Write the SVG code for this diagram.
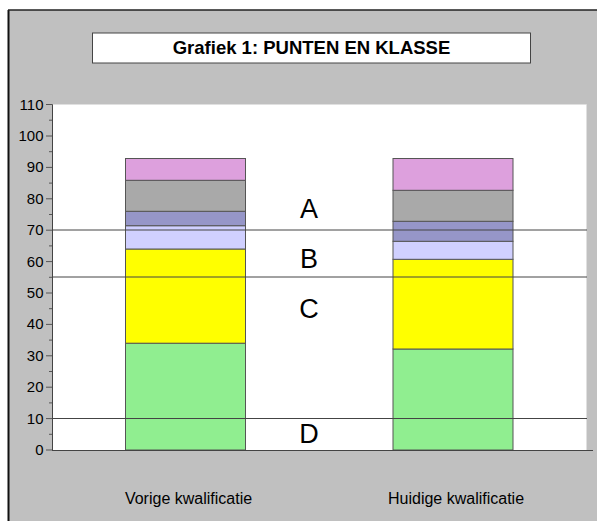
<svg xmlns="http://www.w3.org/2000/svg" width="597" height="521" viewBox="0 0 597 521">
<style>
text{font-family:"Liberation Sans",Arial,sans-serif;fill:#000}
.tl{font-size:15px;text-anchor:end}
.cat{font-size:16px;text-anchor:middle}
.zone{font-size:27px;text-anchor:middle}
.seg{stroke:#555;stroke-width:1}
.ref{stroke:#444;stroke-width:1}
.tick{stroke:#555;stroke-width:1}
</style>
<rect x="0" y="0" width="597" height="521" fill="#fff"/>
<rect x="9" y="10" width="588" height="511" fill="#c0c0c0"/>
<line x1="8.5" y1="10" x2="8.5" y2="521" stroke="#111" stroke-width="2"/>
<line x1="8" y1="10" x2="597" y2="10" stroke="#222" stroke-width="1.5"/>
<g id="title">
<rect x="92.5" y="33" width="438" height="30" fill="#fff" stroke="#444" stroke-width="1"/>
<text x="311.5" y="54" style="font-size:18.5px;font-weight:bold;text-anchor:middle">Grafiek 1: PUNTEN EN KLASSE</text>
</g>
<rect id="plot" x="52.5" y="104.5" width="534" height="345.5" fill="#fff"/>
<line x1="586.5" y1="104.5" x2="586.5" y2="450" stroke="#e0e0e0" stroke-width="1"/>
<g id="bar-vorige">
<rect class="seg" x="125.5" y="343.2" width="120" height="106.8" fill="#90ee90"/>
<rect class="seg" x="125.5" y="249" width="120" height="94.2" fill="#ffff00"/>
<rect class="seg" x="125.5" y="225.7" width="120" height="23.3" fill="#d0d0ff"/>
<rect class="seg" x="125.5" y="211.3" width="120" height="14.4" fill="#9696c8"/>
<rect class="seg" x="125.5" y="180.3" width="120" height="31" fill="#a9a9a9"/>
<rect class="seg" x="125.5" y="158.5" width="120" height="21.8" fill="#dda0dd"/>
</g>
<g id="bar-huidige">
<rect class="seg" x="393" y="349" width="120" height="101" fill="#90ee90"/>
<rect class="seg" x="393" y="259.3" width="120" height="89.7" fill="#ffff00"/>
<rect class="seg" x="393" y="241.3" width="120" height="18" fill="#d0d0ff"/>
<rect class="seg" x="393" y="221.3" width="120" height="20" fill="#9696c8"/>
<rect class="seg" x="393" y="190.3" width="120" height="31" fill="#a9a9a9"/>
<rect class="seg" x="393" y="158.5" width="120" height="31.8" fill="#dda0dd"/>
</g>
<g id="connectors">
<line class="ref" x1="52" y1="230" x2="587" y2="230"/>
<line class="ref" x1="52" y1="277" x2="587" y2="277"/>
<line class="ref" x1="52" y1="418.5" x2="587" y2="418.5"/>
</g>
<g id="axis">
<line x1="52.5" y1="104.5" x2="52.5" y2="450.5" stroke="#444" stroke-width="1"/>
<line x1="52" y1="450.5" x2="593" y2="450.5" stroke="#444" stroke-width="1"/>
<g class="tick">
<line x1="46" y1="104.5" x2="52.5" y2="104.5"/>
<line x1="46" y1="136" x2="52" y2="136"/>
<line x1="46" y1="167.4" x2="52" y2="167.4"/>
<line x1="46" y1="198.8" x2="52" y2="198.8"/>
<line x1="46" y1="230.2" x2="52" y2="230.2"/>
<line x1="46" y1="261.6" x2="52" y2="261.6"/>
<line x1="46" y1="293" x2="52" y2="293"/>
<line x1="46" y1="324.4" x2="52" y2="324.4"/>
<line x1="46" y1="355.8" x2="52" y2="355.8"/>
<line x1="46" y1="387.2" x2="52" y2="387.2"/>
<line x1="46" y1="418.6" x2="52" y2="418.6"/>
<line x1="46" y1="450" x2="52" y2="450"/>
<line x1="49" y1="120.2" x2="52" y2="120.2"/>
<line x1="49" y1="151.7" x2="52" y2="151.7"/>
<line x1="49" y1="183.1" x2="52" y2="183.1"/>
<line x1="49" y1="214.5" x2="52" y2="214.5"/>
<line x1="49" y1="245.9" x2="52" y2="245.9"/>
<line x1="49" y1="277.3" x2="52" y2="277.3"/>
<line x1="49" y1="308.7" x2="52" y2="308.7"/>
<line x1="49" y1="340.1" x2="52" y2="340.1"/>
<line x1="49" y1="371.5" x2="52" y2="371.5"/>
<line x1="49" y1="402.9" x2="52" y2="402.9"/>
<line x1="49" y1="434.3" x2="52" y2="434.3"/>
</g>
<text class="tl" x="43.5" y="109.5">110</text>
<text class="tl" x="43.5" y="141">100</text>
<text class="tl" x="43.5" y="172.4">90</text>
<text class="tl" x="43.5" y="203.8">80</text>
<text class="tl" x="43.5" y="235.2">70</text>
<text class="tl" x="43.5" y="266.6">60</text>
<text class="tl" x="43.5" y="298">50</text>
<text class="tl" x="43.5" y="329.4">40</text>
<text class="tl" x="43.5" y="360.8">30</text>
<text class="tl" x="43.5" y="392.2">20</text>
<text class="tl" x="43.5" y="423.6">10</text>
<text class="tl" x="43.5" y="455">0</text>
</g>
<g id="zones">
<text class="zone" x="309" y="218">A</text>
<text class="zone" x="309" y="268">B</text>
<text class="zone" x="309" y="318">C</text>
<text class="zone" x="309" y="443">D</text>
</g>
<g id="categories">
<text class="cat" x="188.5" y="504">Vorige kwalificatie</text>
<text class="cat" x="456" y="504">Huidige kwalificatie</text>
</g>
</svg>
